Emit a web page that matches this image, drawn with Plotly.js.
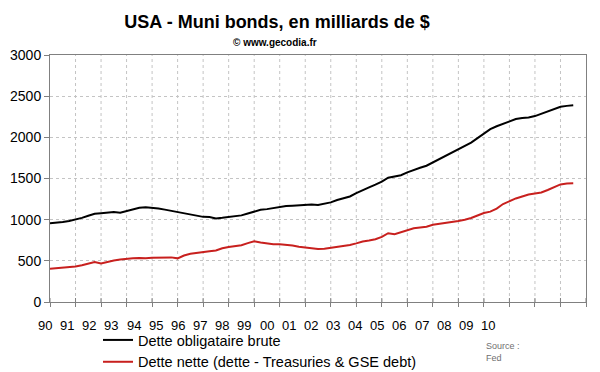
<!DOCTYPE html>
<html>
<head>
<meta charset="utf-8">
<script src="https://cdn.plot.ly/plotly-3.0.1.min.js"></script>
<style>html,body{margin:0;padding:0;background:#fff;}#chart{width:600px;height:372px;}</style>
</head>
<body>
<div id="chart"></div>
<script>
// Quarterly dates (decimal years)
var quarters = [
1990.00,1990.25,1990.50,1990.75,1991.00,1991.25,1991.50,1991.75,
1992.00,1992.25,1992.50,1992.75,1993.00,1993.25,1993.50,1993.75,
1994.00,1994.25,1994.50,1994.75,1995.00,1995.25,1995.50,1995.75,
1996.00,1996.25,1996.50,1996.75,1997.00,1997.25,1997.50,1997.75,
1998.00,1998.25,1998.50,1998.75,1999.00,1999.25,1999.50,1999.75,
2000.00,2000.25,2000.50,2000.75,2001.00,2001.25,2001.50,2001.75,
2002.00,2002.25,2002.50,2002.75,2003.00,2003.25,2003.50,2003.75,
2004.00,2004.25,2004.50,2004.75,2005.00,2005.25,2005.50,2005.75,
2006.00,2006.25,2006.50,2006.75,2007.00,2007.25,2007.50,2007.75,
2008.00,2008.25,2008.50,2008.75,2009.00,2009.25,2009.50,2009.75,
2010.00,2010.25,2010.50
];
// Dette obligataire brute (milliards $)
var detteBrute = [
955,962,972,985,1000,1022,1048,1072,
1078,1086,1092,1084,1105,1128,1145,1152,
1148,1135,1122,1106,1092,1075,1058,1042,
1034,1032,1015,1022,1030,1040,1052,1074,
1100,1120,1128,1142,1155,1165,1170,1176,
1180,1184,1178,1190,1210,1238,1260,1282,
1322,1362,1392,1425,1462,1510,1522,1540,
1575,1606,1630,1655,1695,1745,1785,1825,
1862,1895,1935,1990,2040,2100,2135,2165,
2200,2222,2235,2240,2258,2285,2310,2340,
2372,2382,2390
];
// Dette nette (dette - Treasuries & GSE debt)
var detteNette = [
405,410,414,420,430,446,462,485,
468,490,505,515,525,532,535,530,
536,540,538,542,530,565,585,598,
610,615,625,652,669,676,690,715,
738,722,708,702,700,697,685,670,
658,648,643,648,660,668,676,692,
712,735,746,762,790,836,824,845,
870,895,905,915,938,948,958,970,
984,1000,1020,1050,1080,1098,1135,1190,
1228,1258,1282,1305,1318,1330,1360,1395,
1428,1440,1443
];
var yearTicks = [1990,1991,1992,1993,1994,1995,1996,1997,1998,1999,2000,2001,2002,2003,2004,2005,2006,2007,2008,2009,2010,2011];
var labelYears = [1990,1991,1992,1993,1994,1995,1996,1997,1998,1999,2000,2001,2002,2003,2004,2005,2006,2007,2008,2009,2010];
var labelText = ["90","91","92","93","94","95","96","97","98","99","00","01","02","03","04","05","06","07","08","09","10"];
var seriesNames = ["Dette obligataire brute","Dette nette (dette - Treasuries & GSE debt)"];

var FONT = "Liberation Sans, Arial, sans-serif";

// frame geometry
var plotL = 30, plotR = 586, axisX = 50, plotT = 55, plotB = 302;
var plotW = plotR - plotL, plotH = plotB - plotT;
var yMax = 3000;
var tickLenVal = 4 / plotH * yMax;   // 4 px expressed in axis units
// the year labels of the reference are spaced on their own, narrower scale
var labelX0 = 45, pxPerLabel = 22.15;

// yearly vertical gridlines and inner tick halves, drawn on the axes' scales
var gridX = [], gridY = [], tickX = [], tickY = [];
yearTicks.forEach(function (yr, i) {
  if (i > 0 && i < yearTicks.length - 1) {
    gridX.push(yr, yr, null); gridY.push(0, yMax, null);
  }
  tickX.push(yr, yr, null); tickY.push(0, tickLenVal, null);
});

var traces = [
  {x: gridX, y: gridY, type: "scatter", mode: "lines", showlegend: false, hoverinfo: "skip",
   line: {color: "#c4c4c4", width: 1, dash: "dot"}},
  {x: tickX, y: tickY, type: "scatter", mode: "lines", showlegend: false, hoverinfo: "skip",
   line: {color: "#808080", width: 1}},
  {x: quarters, y: detteBrute, name: seriesNames[0], type: "scatter", mode: "lines",
   line: {color: "#000000", width: 2}},
  {x: quarters, y: detteNette, name: seriesNames[1], type: "scatter", mode: "lines",
   line: {color: "#c8201e", width: 2}}
];

var annotations = [
  {text: "<b>© www.gecodia.fr</b>", xref: "paper", yref: "paper",
   x: (275 - plotL)/plotW, y: (plotB - 42)/plotH, xanchor: "center", yanchor: "middle",
   showarrow: false, font: {family: FONT, size: 10, color: "#000000"}},
  {text: "Source :<br>Fed", xref: "paper", yref: "paper",
   x: (484 - plotL)/plotW, y: (plotB - 339)/plotH, xanchor: "left", yanchor: "top",
   align: "left", showarrow: false, font: {family: FONT, size: 9, color: "#707070"}}
];
labelYears.forEach(function (yr, i) {
  annotations.push({
    text: labelText[i], xref: "paper", yref: "paper",
    x: (labelX0 + (yr - labelYears[0]) * pxPerLabel - plotL) / plotW,
    y: (plotB - 325) / plotH, xanchor: "center", yanchor: "middle",
    showarrow: false, font: {family: FONT, size: 13, color: "#000000"}
  });
});

var layout = {
  width: 600, height: 372,
  margin: {l: plotL, r: 600 - plotR, t: plotT, b: 372 - plotB, autoexpand: false},
  paper_bgcolor: "#ffffff", plot_bgcolor: "#ffffff",
  font: {family: FONT, color: "#000000"},
  title: {text: "<b>USA - Muni bonds, en milliards de $</b>",
          font: {family: FONT, size: 18, color: "#000000"},
          xref: "container", x: 277/600, xanchor: "center",
          yref: "container", y: 1 - 22/372, yanchor: "middle"},
  showlegend: true,
  legend: {orientation: "v", x: (98 - plotL)/plotW, xanchor: "left",
           y: (plotB - 324)/plotH, yanchor: "top",
           font: {family: FONT, size: 14.5, color: "#000000"},
           bgcolor: "rgba(0,0,0,0)", borderwidth: 0, tracegroupgap: 0},
  xaxis: {type: "linear", domain: [(axisX - plotL)/plotW, 1], anchor: "y",
          range: [1990, 2011], autorange: false,
          tickmode: "array", tickvals: yearTicks, showticklabels: false,
          ticks: "outside", ticklen: 4, tickcolor: "#808080", tickwidth: 1,
          showgrid: false,
          showline: true, linecolor: "#808080", linewidth: 1, mirror: true,
          zeroline: false, fixedrange: true},
  yaxis: {type: "linear", anchor: "x", domain: [0, 1], range: [0, yMax], autorange: false,
          tickmode: "linear", tick0: 0, dtick: 500,
          ticks: "outside", ticklen: 5, tickcolor: "#808080", tickwidth: 1,
          tickfont: {family: FONT, size: 14, color: "#000000"},
          showgrid: true, gridcolor: "#c4c4c4", griddash: "dot", gridwidth: 1,
          showline: true, linecolor: "#808080", linewidth: 1, mirror: true,
          zeroline: false, fixedrange: true},
  annotations: annotations
};

Plotly.newPlot("chart", traces, layout, {staticPlot: true, displayModeBar: false});
</script>
</body>
</html>
